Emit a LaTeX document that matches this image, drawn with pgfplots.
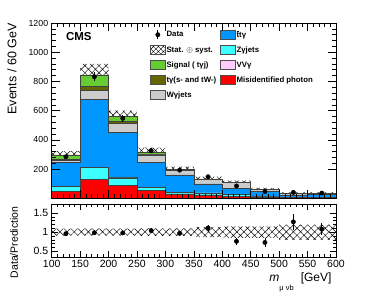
\documentclass[border=0pt]{standalone}
\usepackage{fontspec}
\setmainfont{Liberation Sans}
\usepackage{pgfplots}
\pgfplotsset{compat=1.18}
\usepgfplotslibrary{fillbetween}
\usetikzlibrary{patterns.meta}
\definecolor{ttg}{RGB}{0,150,255}
\definecolor{zg}{RGB}{60,255,255}
\definecolor{vvg}{RGB}{255,204,255}
\definecolor{misid}{RGB}{255,0,0}
\definecolor{wg}{RGB}{204,204,204}
\definecolor{tg}{RGB}{102,102,0}
\definecolor{sig}{RGB}{102,204,51}
\begin{document}
\begin{tikzpicture}
\pgfplotsset{cmsaxis/.style={scale only axis, width=284.3pt, xmin=100, xmax=600,
  xtick={100,150,...,600}, minor x tick num=4, tick align=inside,
  xtick pos=both, ytick pos=both, major tick length=8pt, minor tick length=4pt,
  tick style={black, line width=0.5pt}, axis line style={black, line width=0.6pt},
  /pgf/number format/assume math mode=true, /pgf/number format/1000 sep={},
  axis on top},
  stk/.style={const plot, draw=black!75, line width=0.5pt, forget plot}}
\begin{axis}[cmsaxis, at={(51.7pt,100.8pt)}, anchor=south west, height=175.2pt,
  ymin=0, ymax=1200, ytick={200,400,...,1200}, minor y tick num=4,
  xticklabel=\empty,
  yticklabel style={font=\fontsize{8.8}{9}\selectfont},
  legend style={at={(0.335,0.975)}, anchor=north west, draw=none, fill=none,
    font=\fontsize{7.8}{8}\selectfont\bfseries, legend columns=2, row sep=5.6pt,
    nodes={inner sep=1pt},
    /tikz/every even column/.append style={column sep=3pt}},
  legend cell align=left]
% stacked histograms (cumulative, left bin edges)
\addplot[stk, fill=sig] coordinates {(100,296)(150,844)(200,558)(250,312)(300,198)(350,132)(400,110)(450,61)(500,33)(550,33)(600,33)} \closedcycle;
\addplot[stk, fill=tg] coordinates {(100,266)(150,764)(200,524)(250,304)(300,196)(350,130)(400,110)(450,61)(500,33)(550,33)(600,33)} \closedcycle;
\addplot[stk, fill=wg] coordinates {(100,260)(150,741)(200,513)(250,296)(300,193)(350,128)(400,109)(450,61)(500,33)(550,33)(600,33)} \closedcycle;
\addplot[stk, fill=ttg] coordinates {(100,246)(150,677)(200,449)(250,246)(300,159)(350,98)(400,68)(450,45)(500,22)(550,27)(600,27)} \closedcycle;
\addplot[stk, fill=vvg] coordinates {(100,80)(150,213)(200,142)(250,73)(300,41)(350,37)(400,25)(450,10)(500,6)(550,5)(600,5)} \closedcycle;
\addplot[stk, fill=zg] coordinates {(100,79)(150,211)(200,140)(250,72)(300,40)(350,36)(400,24)(450,9)(500,6)(550,5)(600,5)} \closedcycle;
\addplot[stk, fill=misid] coordinates {(100,45)(150,131)(200,86)(250,56)(300,30)(350,22)(400,10)(450,5)(500,3)(550,2)(600,2)} \closedcycle;
% uncertainty band
\addplot[const plot, draw=none, name path=mup, forget plot] coordinates {(100,323)(150,920)(200,600)(250,346)(300,217)(350,147)(400,120)(450,70)(500,40)(550,40)(600,40)};
\addplot[const plot, draw=none, name path=mlo, forget plot] coordinates {(100,269)(150,768)(200,516)(250,278)(300,179)(350,117)(400,100)(450,52)(500,26)(550,26)(600,26)};
\addplot[pattern={Hatch[angle=45,distance=5pt,line width=0.45pt]}, pattern color=black, draw=none, forget plot] fill between[of=mup and mlo];
% data
\addplot[only marks, mark=*, mark size=2.2pt, black, forget plot,
  error bars/.cd, y dir=both, y explicit, error mark=none, error bar style={line width=0.7pt}]
  coordinates {(125,284) +- (0,17) (175,832) +- (0,29) (225,547) +- (0,23) (275,325) +- (0,18) (325,192) +- (0,14)
  (375,147) +- (0,12) (425,84) +- (0,9) (475,45) +- (0,7) (525,40) +- (0,6) (575,35) +- (0,6)};
% legend
\addlegendimage{legend image code/.code={\draw[black,line width=0.7pt] (7.5pt,-4.5pt) -- (7.5pt,4.5pt); \fill[black] (7.5pt,0pt) circle (2.2pt);}}
\addlegendentry{Data}
\addlegendimage{legend image code/.code={\draw[fill=ttg,draw=black!70] (0pt,-4.5pt) rectangle (15pt,4.5pt);}}
\addlegendentry{\rlap{\raisebox{6.3pt}{\rule{2.6pt}{0.5pt}}}ttγ}
\addlegendimage{legend image code/.code={\draw[pattern={Hatch[angle=45,distance=3.5pt,line width=0.4pt]},draw=black!70] (0pt,-4.5pt) rectangle (15pt,4.5pt);}}
\addlegendentry{Stat. $\oplus$ syst.}
\addlegendimage{legend image code/.code={\draw[fill=zg,draw=black!70] (0pt,-4.5pt) rectangle (15pt,4.5pt);}}
\addlegendentry{Zγjets}
\addlegendimage{legend image code/.code={\draw[fill=sig,draw=black!70] (0pt,-4.5pt) rectangle (15pt,4.5pt);}}
\addlegendentry{Signal ( tγj)}
\addlegendimage{legend image code/.code={\draw[fill=vvg,draw=black!70] (0pt,-4.5pt) rectangle (15pt,4.5pt);}}
\addlegendentry{VVγ}
\addlegendimage{legend image code/.code={\draw[fill=tg,draw=black!70] (0pt,-4.5pt) rectangle (15pt,4.5pt);}}
\addlegendentry{tγ(s- and tW-)}
\addlegendimage{legend image code/.code={\draw[fill=misid,draw=black!70] (0pt,-4.5pt) rectangle (15pt,4.5pt);}}
\addlegendentry{Misidentified photon}
\addlegendimage{legend image code/.code={\draw[fill=wg,draw=black!70] (0pt,-4.5pt) rectangle (15pt,4.5pt);}}
\addlegendentry{Wγjets}
\node[anchor=west, font=\fontsize{11.5}{12}\selectfont\bfseries] at (rel axis cs:0.038,0.92) {CMS};
\node[anchor=base east, font=\fontsize{10.5}{11}\selectfont] at ([yshift=6pt]rel axis cs:0.995,1) {35.9 fb\raisebox{4pt}{\fontsize{7}{7}\selectfont -1} (13 TeV)};
\end{axis}
\node[rotate=90, anchor=east, font=\fontsize{12.5}{13}\selectfont] at (12pt,279pt) {Events / 60 GeV};
\begin{axis}[cmsaxis, at={(51.7pt,42pt)}, anchor=south west, height=52.7pt,
  ymin=0.35, ymax=1.73, ytick={0.5,1,1.5}, minor y tick num=4,
  major tick length=6pt, minor tick length=3pt,
  ticklabel style={font=\fontsize{10.5}{11}\selectfont}]
\addplot[const plot, draw=none, name path=rup] coordinates {(100,1.09)(150,1.09)(200,1.09)(250,1.10)(300,1.10)(350,1.13)(400,1.15)(450,1.15)(500,1.20)(550,1.20)(600,1.20)};
\addplot[const plot, draw=none, name path=rlo] coordinates {(100,0.91)(150,0.91)(200,0.91)(250,0.90)(300,0.90)(350,0.87)(400,0.85)(450,0.85)(500,0.80)(550,0.80)(600,0.80)};
\addplot[pattern={Hatch[angle=45,distance=5pt,line width=0.45pt]}, pattern color=black, draw=none] fill between[of=rup and rlo];
\addplot[only marks, mark=*, mark size=2.2pt, black,
  error bars/.cd, y dir=both, y explicit, error mark=none, error bar style={line width=0.7pt}]
  coordinates {(125,0.96) +- (0,0.06) (175,0.985) +- (0,0.035) (225,0.98) +- (0,0.045) (275,1.04) +- (0,0.06) (325,0.97) +- (0,0.07)
  (375,1.11) +- (0,0.09) (425,0.76) +- (0,0.09) (475,0.73) +- (0,0.12) (525,1.27) +- (0,0.21) (575,1.08) +- (0,0.16)};
\end{axis}
\node[rotate=90, anchor=east, font=\fontsize{10.5}{11}\selectfont] at (14pt,96pt) {Data/Prediction};
\node[anchor=base east, font=\fontsize{12}{12}\selectfont] at (335pt,17pt) {\textit{m}\raisebox{-9pt}{\fontsize{7.5}{8}\selectfont μ νb}\hspace{7pt}[GeV]};
\pgfresetboundingbox
\useasboundingbox (0,0) rectangle (377pt,299pt);
\end{tikzpicture}
\end{document}
